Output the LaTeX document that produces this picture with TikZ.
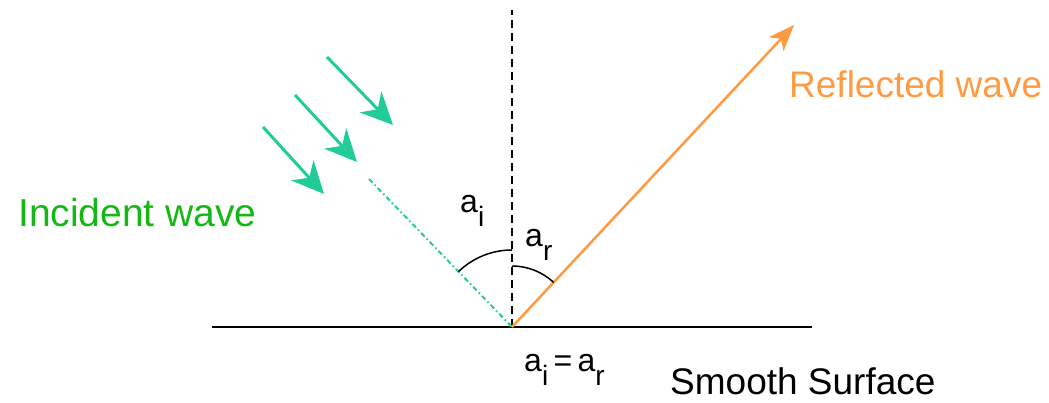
\documentclass[tikz,border=0pt]{standalone}
\usepackage{fontspec}
\setmainfont{Liberation Sans}
\usepackage{xcolor}
\usetikzlibrary{arrows.meta}
\definecolor{teal}{HTML}{22CC99}
\definecolor{leafgreen}{HTML}{14B814}
\definecolor{amber}{HTML}{FF9A40}
\newcommand{\lowsub}[1]{\raisebox{-0.42em}{\fontsize{28}{30}\selectfont #1}}

\begin{document}
\begin{tikzpicture}[x=1pt,y=1pt,lbl/.style={inner sep=0pt,font=\fontsize{37}{42}\selectfont},sym/.style={inner sep=0pt,font=\fontsize{32}{36}\selectfont},ray/.style={-{Stealth[length=32pt,width=30pt,inset=10pt]},line width=3pt,draw=teal},arcl/.style={line width=1.5pt,draw=black}]
\useasboundingbox (0,0) rectangle (1049,403);
% surface and normal
\coordinate (O) at (512,76);
\coordinate (sl) at (212,76);
\coordinate (sr) at (812,76);
\coordinate (ntop) at (512,393);
\draw[line width=2pt] (sl)--(sr);
\draw[line width=1.6pt,dash pattern=on 8pt off 5pt] (O)--(ntop);
% incident rays
\coordinate (i1) at (327,346);\coordinate (j1) at (393,278);
\coordinate (i2) at (295,308);\coordinate (j2) at (357,241);
\coordinate (i3) at (263,276);\coordinate (j3) at (324,209);
\draw[ray] (i1)--(j1);\draw[ray] (i2)--(j2);\draw[ray] (i3)--(j3);
\coordinate (istart) at (369,224);
\draw[teal,line width=2pt,dash pattern=on 5pt off 3pt on 1.5pt off 3pt] (istart)--(O);
% reflected ray
\coordinate (rtip) at (794,378);
\draw[-{Stealth[length=26pt,width=20pt,inset=7pt]},line width=2.5pt,draw=amber] (O)--(rtip);
% angles
\draw[arcl] ([shift={(90:77pt)}]O) arc[start angle=90,end angle=134,radius=77pt];
\draw[arcl] ([shift={(90:61pt)}]O) arc[start angle=90,end angle=47,radius=61pt];
% labels
\node[lbl,text=leafgreen,anchor=base west,font=\fontsize{39}{44}\selectfont] (inc) at (18,176) {Incident wave};
\node[lbl,text=amber,anchor=base west] (refl) at (789,305) {Reflected wave};
\node[lbl,anchor=base west] (surf) at (670,8) {Smooth Surface};
\node[sym,anchor=base west] (ai) at (460,190) {a\lowsub{i}};
\node[sym,anchor=base west] (ar) at (525,156) {a\lowsub{r}};
\node[sym,anchor=base west] (eq) at (524,31) {a\lowsub{i}\,=\,a\lowsub{r}};
\end{tikzpicture}
\end{document}
